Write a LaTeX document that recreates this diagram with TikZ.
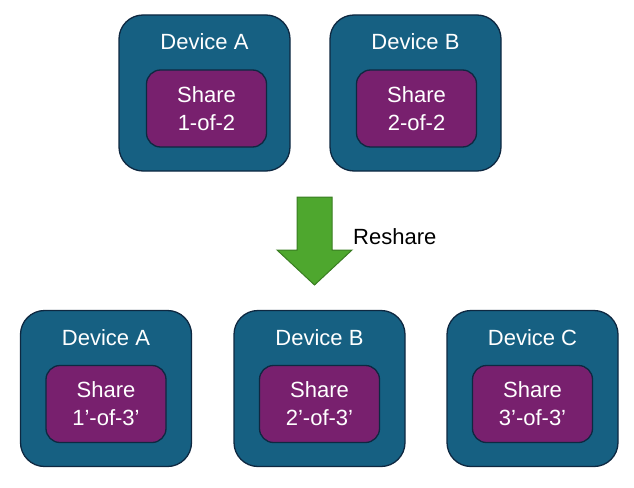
\documentclass[tikz,border=0pt]{standalone}
\usepackage{fontspec}
\setmainfont{Liberation Sans}
\definecolor{devfill}{RGB}{22,96,130}
\definecolor{devdraw}{RGB}{14,40,65}
\definecolor{sharefill}{RGB}{120,32,110}
\definecolor{arrowfill}{RGB}{78,167,46}
\definecolor{arrowdraw}{RGB}{58,125,34}
\begin{document}
\begin{tikzpicture}[x=1pt,y=-1pt,
  devbox/.style={draw=devdraw,fill=devfill,line width=1.3pt,rounded corners=24pt,minimum width=171pt,minimum height=156pt,inner sep=0pt},
  sharebox/.style={draw=devdraw,fill=sharefill,line width=1.3pt,rounded corners=14pt,minimum width=120pt,minimum height=77pt,inner sep=0pt,align=center,text=white,font=\fontsize{22}{28}\selectfont},
  devlabel/.style={text=white,font=\fontsize{22}{24}\selectfont,inner sep=0pt}]
\useasboundingbox (0,0) rectangle (634,487);
% top row
\node[devbox] (da) at (204.5,93) {};
\node[devlabel] (lda) at (204.5,42) {Device A};
\node[sharebox] (sa) at (206.5,108.5) {Share\\1-of-2};
\node[devbox] (db) at (415.5,93) {};
\node[devlabel] (ldb) at (415.5,42) {Device B};
\node[sharebox] (sb) at (416.5,108.5) {Share\\2-of-2};
% bottom row
\node[devbox] (dc) at (106,388.5) {};
\node[devlabel] (ldc) at (106,338) {Device A};
\node[sharebox] (sc) at (106,404) {Share\\1’-of-3’};
\node[devbox] (dd) at (319.5,388.5) {};
\node[devlabel] (ldd) at (319.5,338) {Device B};
\node[sharebox] (sd) at (319.5,404) {Share\\2’-of-3’};
\node[devbox] (de) at (532.5,388.5) {};
\node[devlabel] (lde) at (532.5,338) {Device C};
\node[sharebox] (se) at (532.5,404) {Share\\3’-of-3’};
% arrow
\draw[draw=arrowdraw,fill=arrowfill,line width=1pt,line join=miter]
  (297,197) -- (332,197) -- (332,250) -- (352,250) -- (314.5,285) -- (277,250) -- (297,250) -- cycle;
\node[anchor=west,inner sep=0pt,font=\fontsize{22}{24}\selectfont] (rs) at (353,237) {Reshare};
\end{tikzpicture}
\end{document}
